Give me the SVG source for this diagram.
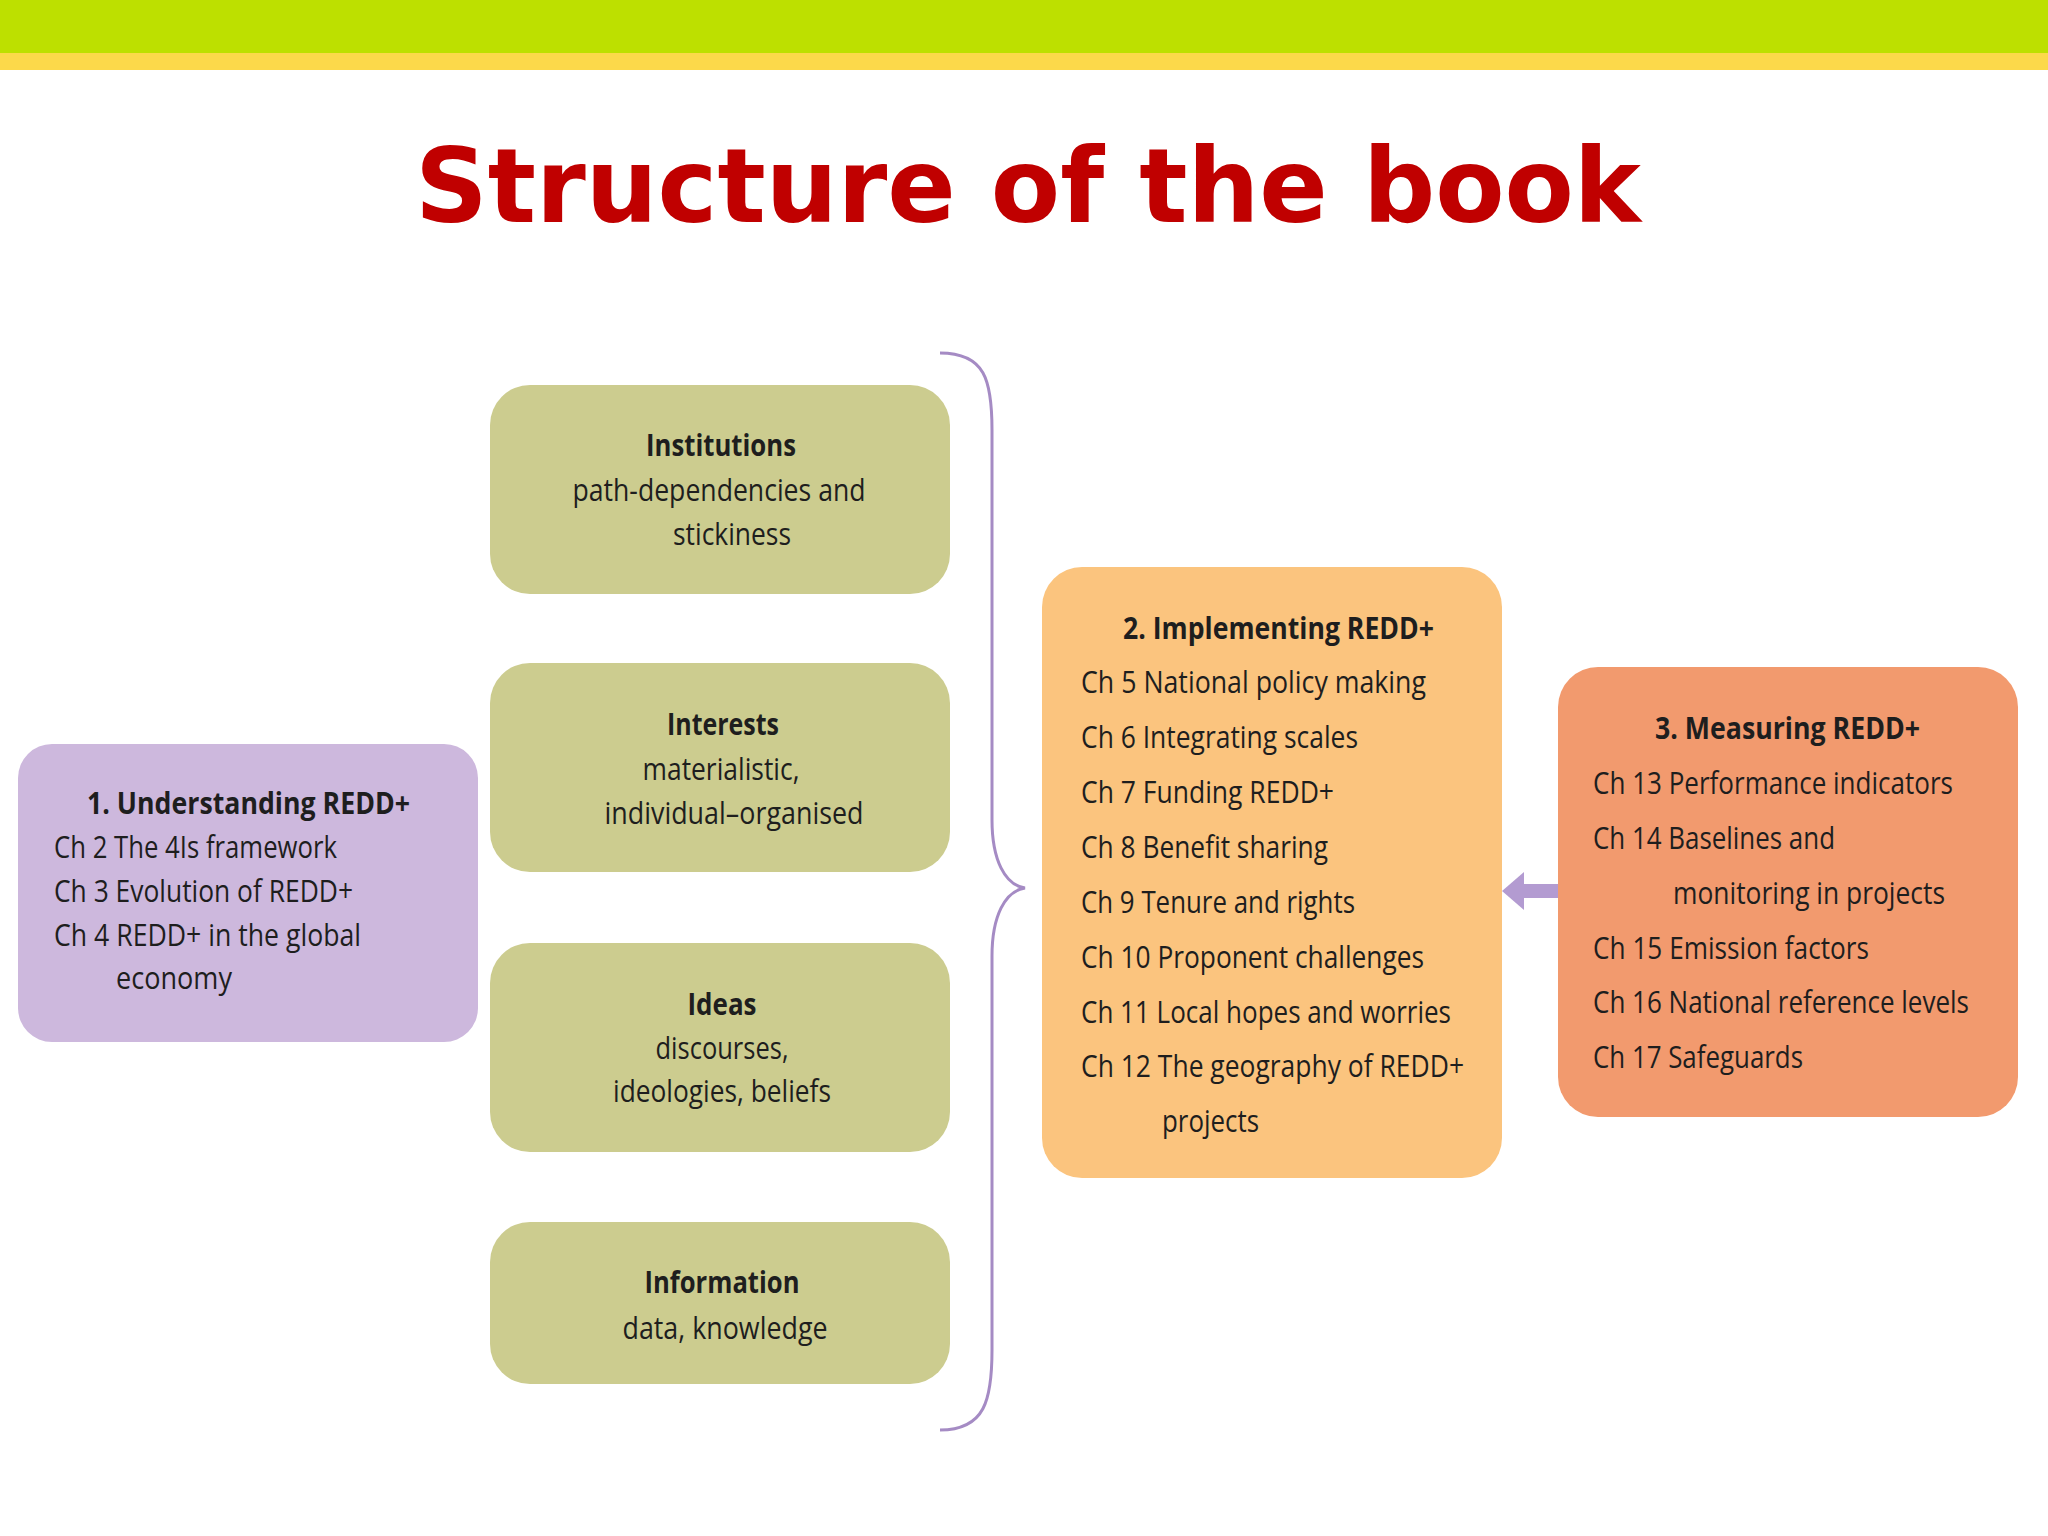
<svg xmlns="http://www.w3.org/2000/svg" width="2048" height="1536" viewBox="0 0 2048 1536">
<style>
text{font-family:"Open Sans","Liberation Sans",sans-serif;font-size:31px;fill:#1e1e1e}
.b{font-weight:bold}
.c{text-anchor:middle}
.g{fill:#cccc8f}
</style>
<rect width="2048" height="1536" fill="#fff"/>
<rect width="2048" height="53" fill="#bde000"/>
<rect y="53" width="2048" height="17" fill="#fcd94a"/>
<text x="1028" y="222" text-anchor="middle" textLength="1226" lengthAdjust="spacingAndGlyphs" style="font-family:'DejaVu Sans',sans-serif;font-weight:bold;font-size:104px;fill:#c00000">Structure of the book</text>
<g id="connectors">
<path d="M940,353 C985,353 992,380 992,430 L992,820 C992,860 1005,885 1025,888 C1005,891 992,916 992,956 L992,1350 C992,1400 985,1430 940,1430" fill="none" stroke="#a58bc4" stroke-width="3"/>
<line x1="1558" y1="891" x2="1522" y2="891" stroke="#b39bd1" stroke-width="14"/>
<polygon points="1502,891 1524,872 1524,910" fill="#b39bd1"/>
</g>
<g id="n1"><rect x="18" y="744" width="460" height="298" rx="34" fill="#cdb8dd"/>
<text x="87" y="814" class="b" textLength="323" lengthAdjust="spacingAndGlyphs">1. Understanding REDD+</text>
<text x="54" y="858" textLength="283" lengthAdjust="spacingAndGlyphs">Ch 2 The 4Is framework</text>
<text x="54" y="902" textLength="299" lengthAdjust="spacingAndGlyphs">Ch 3 Evolution of REDD+</text>
<text x="54" y="946" textLength="307" lengthAdjust="spacingAndGlyphs">Ch 4 REDD+ in the global</text>
<text x="116" y="989" textLength="116" lengthAdjust="spacingAndGlyphs">economy</text></g>
<g id="inst"><rect x="490" y="385" width="460" height="209" rx="40" class="g"/>
<text x="721" y="456" class="b c" textLength="150" lengthAdjust="spacingAndGlyphs">Institutions</text>
<text x="719" y="501" class="c" textLength="293" lengthAdjust="spacingAndGlyphs">path-dependencies and</text>
<text x="732" y="545" class="c" textLength="118" lengthAdjust="spacingAndGlyphs">stickiness</text></g>
<g id="int"><rect x="490" y="663" width="460" height="209" rx="40" class="g"/>
<text x="723" y="735" class="b c" textLength="112" lengthAdjust="spacingAndGlyphs">Interests</text>
<text x="721" y="780" class="c" textLength="157" lengthAdjust="spacingAndGlyphs">materialistic,</text>
<text x="734" y="824" class="c" textLength="259" lengthAdjust="spacingAndGlyphs">individual–organised</text></g>
<g id="ideas"><rect x="490" y="943" width="460" height="209" rx="40" class="g"/>
<text x="722" y="1015" class="b c" textLength="69" lengthAdjust="spacingAndGlyphs">Ideas</text>
<text x="722" y="1059" class="c" textLength="133" lengthAdjust="spacingAndGlyphs">discourses,</text>
<text x="722" y="1102" class="c" textLength="218" lengthAdjust="spacingAndGlyphs">ideologies, beliefs</text></g>
<g id="info"><rect x="490" y="1222" width="460" height="162" rx="40" class="g"/>
<text x="722" y="1293" class="b c" textLength="155" lengthAdjust="spacingAndGlyphs">Information</text>
<text x="725" y="1339" class="c" textLength="205" lengthAdjust="spacingAndGlyphs">data, knowledge</text></g>
<g id="n2"><rect x="1042" y="567" width="460" height="611" rx="40" fill="#fbc47e"/>
<text x="1123" y="639" class="b" textLength="311" lengthAdjust="spacingAndGlyphs">2. Implementing REDD+</text>
<text x="1081" y="693" textLength="345" lengthAdjust="spacingAndGlyphs">Ch 5 National policy making</text>
<text x="1081" y="748" textLength="277" lengthAdjust="spacingAndGlyphs">Ch 6 Integrating scales</text>
<text x="1081" y="803" textLength="253" lengthAdjust="spacingAndGlyphs">Ch 7 Funding REDD+</text>
<text x="1081" y="858" textLength="247" lengthAdjust="spacingAndGlyphs">Ch 8 Benefit sharing</text>
<text x="1081" y="913" textLength="274" lengthAdjust="spacingAndGlyphs">Ch 9 Tenure and rights</text>
<text x="1081" y="968" textLength="343" lengthAdjust="spacingAndGlyphs">Ch 10 Proponent challenges</text>
<text x="1081" y="1023" textLength="370" lengthAdjust="spacingAndGlyphs">Ch 11 Local hopes and worries</text>
<text x="1081" y="1077" textLength="383" lengthAdjust="spacingAndGlyphs">Ch 12 The geography of REDD+</text>
<text x="1162" y="1132" textLength="97" lengthAdjust="spacingAndGlyphs">projects</text></g>
<g id="n3"><rect x="1558" y="667" width="460" height="450" rx="40" fill="#f29a6e"/>
<text x="1655" y="739" class="b" textLength="265" lengthAdjust="spacingAndGlyphs">3. Measuring REDD+</text>
<text x="1593" y="794" textLength="360" lengthAdjust="spacingAndGlyphs">Ch 13 Performance indicators</text>
<text x="1593" y="849" textLength="242" lengthAdjust="spacingAndGlyphs">Ch 14 Baselines and</text>
<text x="1673" y="904" textLength="272" lengthAdjust="spacingAndGlyphs">monitoring in projects</text>
<text x="1593" y="959" textLength="276" lengthAdjust="spacingAndGlyphs">Ch 15 Emission factors</text>
<text x="1593" y="1013" textLength="376" lengthAdjust="spacingAndGlyphs">Ch 16 National reference levels</text>
<text x="1593" y="1068" textLength="210" lengthAdjust="spacingAndGlyphs">Ch 17 Safeguards</text></g>
</svg>
